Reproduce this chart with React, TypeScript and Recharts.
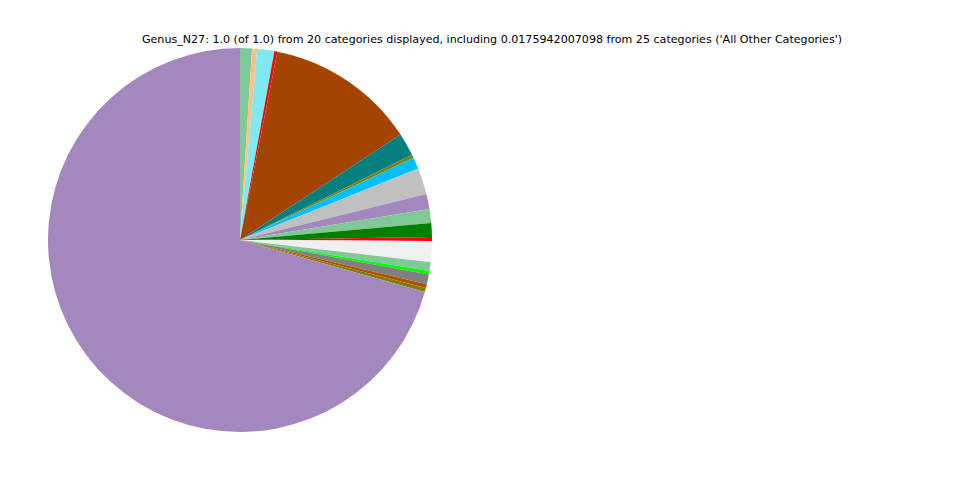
import { PieChart, Pie, Cell } from "recharts";

const categories = [
  "Category 1",
  "Category 2",
  "Category 3",
  "Category 4",
  "Category 5",
  "Category 6",
  "Category 7",
  "Category 8",
  "Category 9",
  "Category 10",
  "Category 11",
  "Category 12",
  "Category 13",
  "All Other Categories",
  "Category 15",
  "Category 16",
  "Category 17",
  "Category 18",
  "Category 19",
  "Category 20",
];

const shares = [
  0.01, 0.0042, 0.0145, 0.0025, 0.1263, 0.0192, 0.0028, 0.0097, 0.0224,
  0.0125, 0.0117, 0.0117, 0.0033, 0.0176, 0.0075, 0.0028, 0.0083, 0.0033,
  0.0033, 0.7064,
];

const colors = [
  "#80c896",
  "#fdc086",
  "#80e8f0",
  "#ff0000",
  "#a34400",
  "#087f7f",
  "#808000",
  "#00bfff",
  "#c0c0c0",
  "#a388bf",
  "#80c896",
  "#008000",
  "#ff0000",
  "#f0f0f0",
  "#80c896",
  "#00ff00",
  "#808080",
  "#b35000",
  "#808000",
  "#a388bf",
];

const title =
  "Genus_N27: 1.0 (of 1.0) from 20 categories displayed, including 0.0175942007098 from 25 categories ('All Other Categories')";

export default function App() {
  const data = categories.map((name, i) => ({ name, value: shares[i] }));

  return (
    <div
      style={{
        position: "absolute",
        left: 0,
        top: 0,
        width: 960,
        height: 480,
        background: "#fff",
        fontFamily: "DejaVu Sans, sans-serif",
      }}
    >
      <div
        style={{
          position: "absolute",
          left: 0,
          width: 984,
          top: 33,
          textAlign: "center",
          fontSize: 11.1,
          color: "#000",
          whiteSpace: "nowrap",
        }}
      >
        {title}
      </div>
      <PieChart
        width={960}
        height={480}
        margin={{ top: 0, right: 0, bottom: 0, left: 0 }}
      >
        <Pie
          data={data}
          dataKey="value"
          nameKey="name"
          cx={240}
          cy={240}
          outerRadius={192}
          startAngle={90}
          endAngle={-270}
          stroke="none"
          isAnimationActive={false}
        >
          {data.map((d, i) => (
            <Cell key={d.name + i} fill={colors[i]} />
          ))}
        </Pie>
      </PieChart>
    </div>
  );
}
